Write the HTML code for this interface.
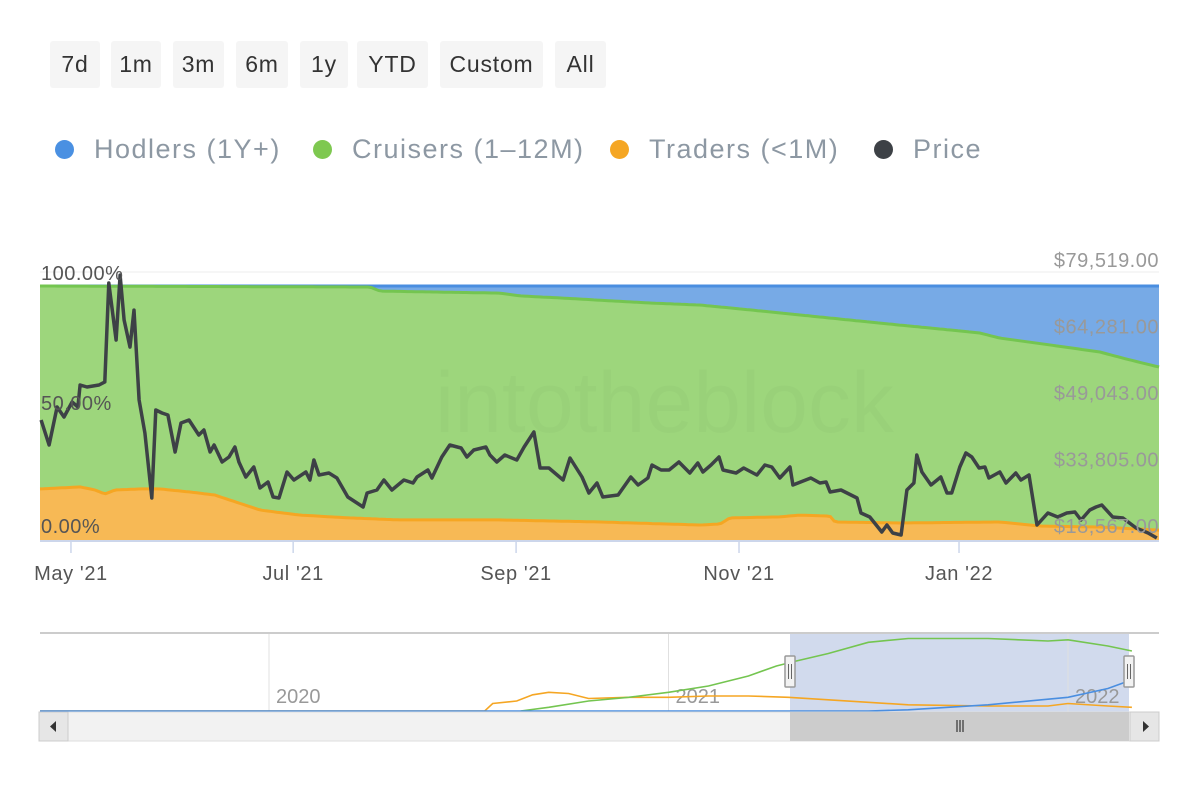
<!DOCTYPE html>
<html><head><meta charset="utf-8">
<style>
body{margin:0;width:1200px;height:800px;background:#fff;font-family:"Liberation Sans",sans-serif;overflow:hidden;position:relative}
.btn{position:absolute;top:41px;height:47px;background:#f5f5f5;border-radius:3px;font-size:23px;color:#333;display:flex;align-items:center;justify-content:center;letter-spacing:0.8px}
.leg{position:absolute;top:134px;font-size:27px;color:#8d98a3;display:flex;align-items:center;letter-spacing:1.5px}
.dot{width:19px;height:19px;border-radius:50%;margin-right:20px}
svg{position:absolute;left:0;top:0}
</style></head><body>
<div class="btn" style="left:50px;width:50px">7d</div>
<div class="btn" style="left:111px;width:50px">1m</div>
<div class="btn" style="left:173px;width:51px">3m</div>
<div class="btn" style="left:236px;width:52px">6m</div>
<div class="btn" style="left:300px;width:48px">1y</div>
<div class="btn" style="left:357px;width:71px">YTD</div>
<div class="btn" style="left:440px;width:103px">Custom</div>
<div class="btn" style="left:555px;width:51px">All</div>

<div class="leg" style="left:55px"><span class="dot" style="background:#4a90e2"></span>Hodlers (1Y+)</div>
<div class="leg" style="left:313px"><span class="dot" style="background:#7ec850"></span>Cruisers (1–12M)</div>
<div class="leg" style="left:610px"><span class="dot" style="background:#f5a623"></span>Traders (&lt;1M)</div>
<div class="leg" style="left:874px"><span class="dot" style="background:#3d4146"></span>Price</div>

<svg id="chart" width="1200" height="800"></svg>
<script>
// ---- data ----
const priceDays=[0.3,2.5,4.7,6.6,8.8,10.4,11,12.9,16.2,17.8,18.9,20.9,22,23.1,24.7,25.8,27.2,28.8,30.7,31.8,33.5,35.1,37.1,38.7,40.9,43.6,45,46.7,47.8,50,51.9,53.5,54.6,56.5,58.7,60.4,62.6,64,65.6,67.8,69.7,73,74.1,75.2,76.6,79.3,81.5,84.5,88.7,89.8,92.5,94.4,96.6,99.9,102.4,103.5,106.5,107.6,110.3,112.5,115.6,117.2,119.1,122.4,123.5,125.4,127.6,130.9,132.9,135.6,137.3,139.7,143.6,145.5,148.8,150.7,152.9,154.5,158.7,162.2,164.2,166.9,168,170.5,172.7,175.4,178.4,180.6,182,184.2,186.4,187.5,191.1,193.2,196.8,199,200.9,203.1,205.9,206.7,211.6,214.1,215.8,216.9,219.9,224.3,225.4,227.8,231.1,232.5,234.1,236.4,238,239.9,240.7,242.1,244.6,247.3,249,250.3,252.5,254.2,255.8,257.8,259.4,260.5,263.5,265.2,267.9,269.3,271.5,273.7,276.7,279.4,281.9,284.1,285.8,288.2,289.9,291.5,294.5,297.3,300.9,304.2,306.6];
const priceK=[42.85,37.12,45.83,43.54,46.98,45.83,50.87,50.41,50.87,51.56,74.24,61.18,76.07,65.76,59.57,68.05,47.43,39.87,24.98,45.14,44.45,44.0,35.52,42.16,42.85,39.41,40.56,35.52,37.12,33.23,34.37,36.67,33.23,29.8,32.08,27.27,28.65,25.21,24.98,30.94,29.11,30.94,29.11,33.69,30.25,30.71,29.57,25.21,22.92,26.13,26.81,29.11,26.81,29.11,28.42,29.8,31.4,29.57,34.37,37.12,36.44,34.37,35.98,36.67,34.83,33.23,34.83,33.69,36.67,40.1,31.86,31.86,29.11,34.15,29.8,26.13,28.42,25.21,25.67,29.8,27.96,29.57,32.54,31.4,31.4,33.23,30.71,33.0,30.94,32.54,34.37,31.4,30.71,31.86,30.25,32.54,32.08,29.57,32.08,27.96,29.57,28.42,28.65,26.36,26.81,24.98,21.54,20.63,17.19,18.8,16.96,16.5,26.81,28.42,34.83,30.94,27.96,29.8,26.13,26.13,32.08,35.29,34.37,31.86,32.08,29.57,30.94,28.42,30.71,29.11,30.25,18.8,21.54,20.63,21.54,21.77,19.94,22.23,22.92,23.38,20.63,20.4,18.11,16.96,15.82];
const traderDays=[0,11,15.1,17.8,20.6,27.4,32.9,41.2,48,52.2,60.4,71.4,85.1,98.8,126.3,153.7,181.2,186.7,189.4,203.1,208.6,216.9,218.2,236.1,263.5,274.5,291,307.2];
const traderPct=[20.1,20.9,19.7,18.1,19.7,20.1,20.1,18.9,17.7,15.7,11.8,9.8,8.7,7.9,7.9,7.1,5.9,6.3,8.7,9.1,9.8,9.4,7.1,6.7,7.1,5.5,5.1,3.9];
const hodlerDays=[0,90.6,93.3,126.3,131.8,142.7,167.4,181.2,194.9,208.6,222.3,236.1,249.8,258,263.5,277.2,291,299.2,307.2];
const hodlerPct=[0,0.4,2,2.8,3.9,4.7,6.7,7.5,9.4,11.4,13.4,15.4,17.3,18.5,20.5,23.2,26,29.1,31.9];
const xTickDays=[8.5,69.5,130.7,191.9,252.3];
const xTickLabels=["May '21","Jul '21","Sep '21","Nov '21","Jan '22"];
const pctTicks=[100,50,0];
const priceTicks=[79519,64281,49043,33805,18567];
// navigator (years)
const navYearTicks=[2020,2021,2022];
const navGreenYr=[2020.63,2020.7,2020.8,2020.9,2021.0,2021.1,2021.2,2021.27,2021.32,2021.4,2021.5,2021.6,2021.8,2021.95,2022.0,2022.1,2022.16];
const navGreenV=[0,3,8,11,15,20,28,36,40,46,55,58,58,56,57,52,48];
const navOrangeYr=[2019.0,2020.54,2020.56,2020.62,2020.66,2020.7,2020.75,2020.8,2020.9,2021.0,2021.1,2021.2,2021.3,2021.4,2021.6,2021.8,2021.95,2022.0,2022.1,2022.16];
const navOrangeV=[0,0,6,8,13,15,14,10,11,11,12,12,11,9,5,4,4,6,4,3];
const navBlueYr=[2019.0,2021.5,2021.6,2021.8,2022.0,2022.1,2022.16];
const navBlueV=[0,0,1,5,11,18,25];

// ---- scales ----
const X0=40,X1=1159,D1=307.2;
const sx=d=>X0+(d/D1)*(X1-X0);
const Y0=540,Y1=286;
const sy=p=>Y0-(p/100)*(Y0-Y1);
const py=k=>526-(k*1000-18567)/15238*66.5;
const nxs=y=>269+(y-2020)*399.5;
const ny=v=>711-v*1.25;

function interp(ds,vs,d){if(d<=ds[0])return vs[0];for(let i=1;i<ds.length;i++){if(d<=ds[i]){const t=(d-ds[i-1])/(ds[i]-ds[i-1]);return vs[i-1]+t*(vs[i]-vs[i-1]);}}return vs[vs.length-1];}

const svg=document.getElementById('chart');
const NS='http://www.w3.org/2000/svg';
function mk(tag,attrs,parent){const e=document.createElementNS(NS,tag);for(const k in attrs)e.setAttribute(k,attrs[k]);(parent||svg).appendChild(e);return e;}

let g=mk('line',{x1:40,x2:1159,y1:272,y2:272,stroke:'#eeeeee','stroke-width':1});



let grid=[];for(let d=0;d<=D1;d+=1)grid.push(d);grid.push(D1);
let blue=mk('rect',{x:X0,y:Y1,width:X1-X0,height:Y0-Y1,fill:'#77aae6'});


let gp='M'+X0+','+Y0+' '+grid.map(d=>'L'+sx(d).toFixed(1)+','+sy(100-interp(hodlerDays,hodlerPct,d)).toFixed(1)).join(' ')+' L'+X1+','+Y0+'Z';
let green=mk('path',{d:gp,fill:'#9dd67c'});


let wm=mk('text',{x:435,y:432,'font-size':86,fill:'#000','fill-opacity':0.02,'font-family':'Liberation Sans, sans-serif'});
wm.textContent='intotheblock';


let op='M'+X0+','+Y0+' '+grid.map(d=>'L'+sx(d).toFixed(1)+','+sy(interp(traderDays,traderPct,d)).toFixed(1)).join(' ')+' L'+X1+','+Y0+'Z';
let orange=mk('path',{d:op,fill:'#f7b955'});


let bl=mk('line',{x1:X0,x2:X1,y1:Y1,y2:Y1,stroke:'#4a8ee0','stroke-width':3});


let gl=mk('polyline',{points:grid.map(d=>sx(d).toFixed(1)+','+sy(100-interp(hodlerDays,hodlerPct,d)).toFixed(1)).join(' '),fill:'none',stroke:'#74c550','stroke-width':3});


let ol=mk('polyline',{points:grid.map(d=>sx(d).toFixed(1)+','+sy(interp(traderDays,traderPct,d)).toFixed(1)).join(' '),fill:'none',stroke:'#f5a623','stroke-width':3});



let ax=mk('line',{x1:X0,x2:X1,y1:541,y2:541,stroke:'#ccd6eb','stroke-width':2});


xTickDays.forEach((d,i)=>{
  const t=mk('line',{x1:sx(d),x2:sx(d),y1:541,y2:553,stroke:'#ccd6eb','stroke-width':1.5});
  
  
  const l=mk('text',{x:sx(d),y:580,'text-anchor':'middle','font-size':20,fill:'#555','letter-spacing':0.6});
  l.textContent=xTickLabels[i];
  
  
});
let pl=mk('polyline',{points:priceDays.map((d,i)=>sx(d).toFixed(1)+','+py(priceK[i]).toFixed(1)).join(' '),fill:'none',stroke:'#3d4146','stroke-width':3.5,'stroke-linejoin':'round'});


const pctY={100:280,50:410,0:533};
pctTicks.forEach(p=>{
  const l=mk('text',{x:41,y:pctY[p],'font-size':20,fill:'#555','letter-spacing':0.5});
  l.textContent=p.toFixed(2)+'%';
  
  
});
priceTicks.forEach(v=>{
  const l=mk('text',{x:1159,y:py(v/1000)+7,'text-anchor':'end','font-size':20,fill:'#999','letter-spacing':0.5});
  l.textContent='$'+v.toLocaleString('en-US')+'.00';
  
  
});

// navigator
let nt=mk('line',{x1:40,x2:1159,y1:633,y2:633,stroke:'#cccccc','stroke-width':2});


let sel=mk('rect',{x:790,y:634,width:339,height:78,fill:'#ccd6eb','fill-opacity':0.9});


navYearTicks.forEach(y=>{
  const x=nxs(y);
  const t=mk('line',{x1:x,x2:x,y1:634,y2:712,stroke:'#e0e0e0','stroke-width':1});
  
  
  const l=mk('text',{x:x+7,y:703,'font-size':20,fill:'#999'});
  l.textContent=String(y);
  
  
});
function navLine(ys,vs,color,name){
  const p=mk('polyline',{points:ys.map((y,i)=>Math.max(40,nxs(y)).toFixed(1)+','+ny(vs[i]).toFixed(1)).join(' '),fill:'none',stroke:color,'stroke-width':1.6});
  
  
}
navLine(navOrangeYr,navOrangeV,'#f5a623','navigator-traders-line');
navLine(navGreenYr,navGreenV,'#74c550','navigator-cruisers-line');
navLine(navBlueYr,navBlueV,'#4a8ee0','navigator-hodlers-line');
[790,1129].forEach((x,i)=>{
  const h=mk('rect',{x:x-5,y:656,width:10,height:31,fill:'#f2f2f2',stroke:'#999','stroke-width':1.5,rx:1});
  
  
  mk('line',{x1:x-1.5,x2:x-1.5,y1:664,y2:679,stroke:'#666'});
  mk('line',{x1:x+1.5,x2:x+1.5,y1:664,y2:679,stroke:'#666'});
});
let sb=mk('rect',{x:39,y:712,width:1120,height:29,fill:'#f2f2f2',stroke:'#ddd'});


let th=mk('rect',{x:790,y:712,width:339,height:29,fill:'#cccccc'});


[957,960,963].forEach(x=>mk('line',{x1:x,x2:x,y1:720,y2:732,stroke:'#333','stroke-width':1.2}));
let lb=mk('rect',{x:39,y:712,width:29,height:29,fill:'#e6e6e6',stroke:'#ccc'});


mk('path',{d:'M56,721 L50,726.5 L56,732Z',fill:'#333'});
let rb=mk('rect',{x:1130,y:712,width:29,height:29,fill:'#e6e6e6',stroke:'#ccc'});


mk('path',{d:'M1143,721 L1149,726.5 L1143,732Z',fill:'#333'});
</script>
</body></html>
